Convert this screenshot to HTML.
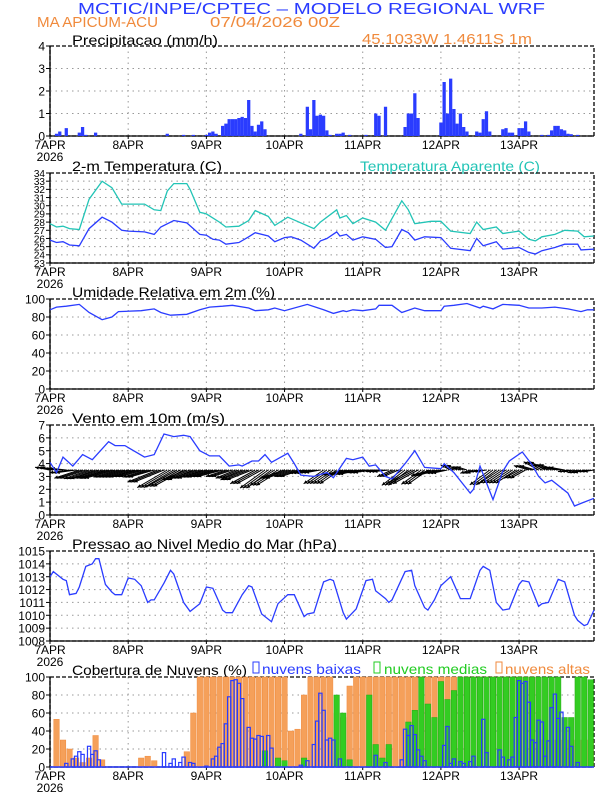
<!DOCTYPE html>
<html><head><meta charset="utf-8">
<style>
html,body{margin:0;padding:0;background:#fff;}
svg{display:block;font-family:"Liberation Sans",sans-serif;}
</style></head>
<body>
<svg id="chart" width="612" height="792" viewBox="0 0 612 792" xmlns="http://www.w3.org/2000/svg">
<text x="78" y="14" textLength="467" lengthAdjust="spacingAndGlyphs" font-size="16" fill="#2a3cff">MCTIC/INPE/CPTEC  –  MODELO REGIONAL WRF</text>
<text x="37" y="27" textLength="121" lengthAdjust="spacingAndGlyphs" font-size="15" fill="#f08a3c">MA APICUM-ACU</text>
<text x="210" y="27" textLength="130" lengthAdjust="spacingAndGlyphs" font-size="15" fill="#f08a3c">07/04/2026 00Z</text>
<text x="362" y="44" textLength="170" lengthAdjust="spacingAndGlyphs" font-size="15" fill="#f08a3c">45.1033W 1.4611S 1m</text>
<text x="72" y="45" textLength="146" lengthAdjust="spacingAndGlyphs" font-size="14" fill="#000">Precipitacao (mm/h)</text>
<text x="72" y="171" textLength="150" lengthAdjust="spacingAndGlyphs" font-size="14" fill="#000">2-m Temperatura (C)</text>
<text x="360" y="171" textLength="180" lengthAdjust="spacingAndGlyphs" font-size="14" fill="#22c4b6">Temperatura Aparente (C)</text>
<text x="72" y="297" textLength="203" lengthAdjust="spacingAndGlyphs" font-size="14" fill="#000">Umidade Relativa em 2m (%)</text>
<text x="72" y="423" textLength="153" lengthAdjust="spacingAndGlyphs" font-size="14" fill="#000">Vento em 10m (m/s)</text>
<text x="72" y="549" textLength="265" lengthAdjust="spacingAndGlyphs" font-size="14" fill="#000">Pressao ao Nivel Medio do Mar (hPa)</text>
<text x="72" y="675" textLength="175" lengthAdjust="spacingAndGlyphs" font-size="14" fill="#000">Cobertura de Nuvens (%)</text>
<g>
<rect x="253" y="662" width="6" height="11" fill="none" stroke="#2a3cff"/>
<text x="262" y="674" textLength="99" lengthAdjust="spacingAndGlyphs" font-size="14" fill="#2a3cff">nuvens baixas</text>
<rect x="374" y="662" width="6" height="11" fill="none" stroke="#22cc22"/>
<text x="384" y="674" textLength="103" lengthAdjust="spacingAndGlyphs" font-size="14" fill="#22cc22">nuvens medias</text>
<rect x="496" y="662" width="6" height="11" fill="none" stroke="#f08a3c"/>
<text x="505" y="674" textLength="85" lengthAdjust="spacingAndGlyphs" font-size="14" fill="#f08a3c">nuvens altas</text>
</g>
</svg>
<script>
// ---- data ----
const dayLabels=["7APR","8APR","9APR","10APR","11APR","12APR","13APR"];
const precipHours=[2,3,5,9,10,11,14,36,41,44,48,49,50,51,53,54,55,56,57,58,59,60,61,62,63,64,65,66,77,79,80,81,82,83,84,85,86,88,89,90,92,97,100,101,103,109,110,111,112,113,120,121,122,123,124,125,126,127,128,131,132,133,134,135,139,140,141,142,144,145,146,147,151,153,154,155,156,157,158,159,160,162];
const precipValues=[0.1,0.2,0.35,0.15,0.4,0.05,0.15,0.1,0.05,0.05,0.05,0.15,0.2,0.1,0.45,0.55,0.75,0.75,0.75,0.8,0.85,0.8,1.6,0.45,0.2,0.5,0.65,0.3,0.1,1.3,0.3,1.6,0.9,0.95,0.9,0.25,0.05,0.1,0.1,0.15,0.05,0.05,1.0,0.9,1.3,0.4,1.0,1.0,1.9,0.8,0.6,2.4,1.0,2.55,1.2,0.55,1.0,0.4,0.2,0.2,0.15,0.75,1.1,0.2,0.3,0.35,0.15,0.15,0.35,0.35,0.65,0.2,0.05,0.05,0.25,0.45,0.45,0.3,0.25,0.1,0.08,0.05];
const tempHours=[0,2,4,6,9,12,16,19,22,24,29,32,34,38,42,46,48,50,52,54,58,61,63,67,69,72,74,77,81,83,85,88,89,91,93,96,100,103,105,108,110,112,115,120,123,129,131,133,137,139,144,147,149,151,155,158,162,163,167];
const tempValues=[25.8,25.5,25.6,25.2,25.1,27.2,28.6,28.0,27.0,26.9,26.8,26.5,27.4,28.2,27.9,26.5,26.4,25.9,25.8,25.3,25.5,26.2,26.7,26.3,25.6,26.1,26.2,25.8,24.8,25.7,26.0,26.8,26.3,26.5,25.8,26.2,25.9,24.9,25.0,27.1,26.7,25.8,26.2,26.1,24.8,24.5,26.0,25.1,25.6,24.7,24.9,24.3,24.1,24.5,24.9,25.3,25.3,24.6,24.7];
const appHours=[0,2,4,6,9,12,16,19,22,29,32,34,36,38,42,43,46,48,52,54,58,61,63,67,69,73,81,83,88,89,91,93,96,100,103,108,110,112,117,120,123,129,131,133,137,139,144,147,149,151,155,158,162,164,167];
const appValues=[27.8,27.4,27.5,27.2,27.1,30.8,33.0,32.2,30.2,30.2,29.5,29.4,31.8,32.7,32.7,32.0,29.2,29.0,28.0,27.4,27.5,28.2,29.4,28.7,27.6,28.6,27.2,28.0,29.5,28.5,28.8,27.8,28.5,28.0,27.0,30.6,29.5,27.8,28.1,28.1,26.9,26.6,28.0,27.1,27.4,26.6,26.9,25.9,25.7,26.2,26.5,27.0,26.9,26.2,26.3];
const rhHours=[0,2,5,9,12,16,19,21,28,32,34,37,42,46,49,53,56,61,63,67,69,72,79,84,87,90,91,93,96,100,101,105,108,112,115,120,121,124,128,132,133,136,139,144,147,151,155,159,163,165,167];
const rhValues=[88,91,92,94,85,77,80,86,87,89,85,82,83,88,91,92,93,90,87,88,90,87,94,88,84,87,86,88,87,89,93,93,85,90,87,87,92,93,95,90,92,89,94,93,90,90,91,89,86,88,88];
const windHours=[0,2,4,7,10,13,18,20,23,29,32,35,38,41,43,46,49,52,55,58,59,62,64,66,68,73,75,77,81,85,87,91,93,96,98,100,103,105,109,112,115,120,121,124,129,130,132,134,136,139,141,145,148,150,152,154,159,161,163,167];
const windSpeed=[4.1,3.3,4.5,3.8,4.7,4.3,5.7,5.4,5.4,4.5,4.7,6.3,6.1,6.2,6.1,5.0,4.6,4.6,3.8,3.9,3.8,4.2,4.2,4.7,4.1,4.8,4.0,3.1,3.0,3.3,2.9,4.4,4.3,4.5,3.8,3.9,3.0,2.8,4.0,5.0,3.7,3.6,4.0,3.3,1.7,2.0,3.8,2.5,1.2,3.4,4.2,4.9,3.9,3.0,2.5,2.7,1.7,0.7,0.9,1.3];
const vecU=[-3,-3,-4,-5,-5,-5,-6,-5,-5,-5,-5,-6,-6,-6,-5,-5,-5,-5,-4,-4,-5,-5,-5,-5,-5,-4,-3,-3,-4,-4,-4,-4,-3,-3,-3,-3,-4,-5,-4,-4,-3,-2,-2,-2,-2,-4,-4,-4,-3,-3,-3,-3,-3,-2,-2,-2];
const vecV=[0.5,0.3,-0.5,-1.5,-1.6,-1.5,-1.5,-1.3,-1.3,-1.2,-1.3,-2.2,-3.2,-3.0,-1.8,-1.5,-1.3,-1.2,-1.2,-1.5,-1.8,-2.5,-3.3,-2.8,-1.5,-1.2,-0.6,-0.5,-2.5,-2.5,-0.9,-0.8,-0.5,-0.2,-0.3,-1.2,-2.8,-2.5,-2.6,-1.0,-0.6,0.9,0.6,-0.6,-0.3,-2.7,-2.4,-2.4,-1.5,0.8,1.5,1.0,0.5,-0.3,-0.5,-0.3];
const presHours=[0,1,4,5,6,8,9,11,13,14,15,17,19,20,22,24,26,28,30,31,32,35,37,38,41,43,46,48,50,53,54,55,56,59,61,62,65,68,70,73,75,78,79,81,84,86,87,90,91,94,97,99,100,103,104,105,109,111,112,115,116,118,120,123,126,127,129,132,133,135,137,139,141,144,145,147,150,151,153,156,158,161,162,164,165,167];
const presValues=[1013.0,1013.4,1012.8,1012.7,1011.6,1011.7,1012.2,1013.8,1014.0,1014.4,1014.4,1012.4,1011.8,1011.6,1011.6,1012.9,1012.8,1012.3,1011.0,1011.2,1011.2,1012.5,1013.5,1013.2,1011.0,1010.3,1010.9,1012.2,1012.1,1010.4,1010.2,1010.2,1010.2,1011.6,1012.3,1012.2,1010.1,1009.5,1010.9,1011.6,1011.6,1009.9,1010.1,1010.2,1012.6,1012.8,1012.7,1010.2,1009.7,1010.5,1012.7,1012.8,1011.9,1011.3,1011.0,1011.2,1013.4,1013.5,1012.3,1010.6,1010.4,1011.2,1012.3,1013.0,1011.3,1011.3,1011.3,1013.5,1013.8,1013.5,1011.0,1010.4,1010.5,1012.4,1012.7,1012.6,1010.7,1010.9,1011.0,1012.8,1012.6,1010.0,1009.6,1009.2,1009.3,1010.4];
const cloudHigh=[0,53,30,20,10,5,10,35,8,0,0,0,0,0,10,12,7,0,0,0,0,17,60,100,100,100,100,100,100,100,100,100,100,100,100,100,100,40,42,80,100,100,100,100,60,55,90,100,100,100,100,100,100,100,100,100,100,100,100,100,100,100,100,100,100,100,100,100,100,100,100,100,100,100,100,30,30,30,30,30,30,30,30,30];
const cloudMid=[0,0,0,0,0,0,0,0,0,0,0,0,0,0,0,0,0,0,0,0,0,0,0,0,0,0,0,0,0,0,0,0,0,18,0,10,7,0,0,10,0,0,0,0,80,60,8,0,0,80,25,10,25,0,0,50,63,100,70,55,95,75,85,100,100,100,100,100,100,100,100,100,100,100,100,100,100,100,100,55,55,100,100,97];
const lowHours=[5,7,8,9,10,12,13,14,15,35,37,38,40,41,43,44,48,50,51,52,53,54,55,56,57,58,59,61,62,63,64,65,67,68,77,79,81,82,83,84,85,86,87,89,100,103,108,109,110,111,112,113,114,115,121,122,123,124,126,127,129,130,133,134,138,139,141,142,143,144,145,146,147,148,149,150,151,152,153,154,155,156,157,159,160,162];
const lowValues=[4,9,12,17,14,23,14,18,8,16,4,9,5,11,5,4,1,9,12,22,26,48,78,96,97,93,76,44,32,31,35,34,35,21,2,7,25,51,82,63,30,32,30,9,13,5,8,42,35,46,36,19,12,7,24,45,4,9,6,4,6,12,53,16,19,11,8,11,55,96,93,95,72,30,27,52,50,12,29,66,81,54,61,44,23,5];

// ---- helpers ----
const svg=document.getElementById('chart');
const NS='http://www.w3.org/2000/svg';
const X0=50,X1=594,HMAX=167,PH=90;
function x(h){return X0+(X1-X0)*h/HMAX;}
function yScale(top,min,max){return v=>top+PH-(v-min)/(max-min)*PH;}
function el(tag,attrs,parent){const e=document.createElementNS(NS,tag);for(const k in attrs)e.setAttribute(k,attrs[k]);(parent||svg).appendChild(e);return e;}

function drawAxes(top,min,max,step,key,fs,showYear){
  const g=el('g',{});
  
  
  const y=yScale(top,min,max);
  for(let d=1;d<7;d++){
    const l=el('line',{x1:x(d*24),x2:x(d*24),y1:top,y2:top+PH,stroke:'#999','stroke-dasharray':'1.5,4'},g);
    
    
  }
  for(let v=min;v<=max+1e-9;v+=step){
    const yy=y(v);
    if(v>min&&v<max){const l=el('line',{x1:X0,x2:X1,y1:yy,y2:yy,stroke:'#999','stroke-dasharray':'1.5,4'},g);
      
      }
    el('line',{x1:X0-4,x2:X0,y1:yy,y2:yy,stroke:'#000'},g);
    const t=el('text',{x:X0-5,y:yy+fs*0.38,'text-anchor':'end','font-size':fs},g);
    t.textContent=String(Math.round(v));
    
    
  }
  el('rect',{x:X0,y:top,width:X1-X0,height:PH,fill:'none',stroke:'#000','stroke-dasharray':'4,2','stroke-width':1.3},g);
  el('line',{x1:X0,x2:X0,y1:top,y2:top+PH,stroke:'#000','stroke-width':1.3},g);
  el('line',{x1:X0,x2:X1,y1:top+PH,y2:top+PH,stroke:'#000','stroke-width':1.3},g);
  dayLabels.forEach((lab,i)=>{
    el('line',{x1:x(i*24),x2:x(i*24),y1:top+PH,y2:top+PH+3,stroke:'#000'},g);
    const t=el('text',{x:x(i*24),y:top+PH+13,'text-anchor':'middle','font-size':12},g);
    t.textContent=lab;
    
    
  });
  if(showYear){const t=el('text',{x:x(0),y:top+PH+25,'text-anchor':'middle','font-size':12},g);t.textContent='2026';
    
    }
  return y;
}
function drawLine(hours,vals,y,color,name){
  const p=el('path',{d:hours.map((h,i)=>(i?'L':'M')+x(h).toFixed(1)+','+y(vals[i]).toFixed(1)).join(''),fill:'none',stroke:color,'stroke-width':1.3});
  
  
}
const BW=(X1-X0)/HMAX;

// Precip
const yP=drawAxes(46,0,4,1,'precip',12,true);
precipHours.forEach((h,i)=>{
  const r=el('rect',{x:x(h)-BW/2,y:yP(precipValues[i]),width:BW,height:yP(0)-yP(precipValues[i]),fill:'#2a3cff'});
  
  
});
// Temperature
const yT=drawAxes(173,23,34,1,'temp',10,true);
drawLine(appHours,appValues,yT,'#22c4b6','apparent-temp-line');
drawLine(tempHours,tempValues,yT,'#2a3cff','temp-line');
// Humidity
const yR=drawAxes(299,0,100,20,'humidity',12,true);
drawLine(rhHours,rhValues,yR,'#2a3cff','humidity-line');
// Wind
const yW=drawAxes(425,0,7,1,'wind',12,true);
const base=yW(3.5);
el('line',{x1:X0,x2:X1,y1:base,y2:base,stroke:'#000','stroke-width':0.8,'stroke-dasharray':'1,1'});
vecU.forEach((u,i)=>{
  const g=el('g',{});
  
  
  for(let k=0;k<3;k++){
    const x0=x(i*3+k), dx=u*5, dy=-vecV[i]*5.5;
    const x1=x0+dx, y1=base+dy;
    const ang=Math.atan2(dy,dx);
    el('line',{x1:x0,y1:base,x2:x1,y2:y1,stroke:'#000','stroke-width':1},g);
    const a1=ang+2.7,a2=ang-2.7;
    el('path',{d:`M${x1},${y1}L${x1+4*Math.cos(a1)},${y1+4*Math.sin(a1)}L${x1+4*Math.cos(a2)},${y1+4*Math.sin(a2)}Z`,fill:'#000'},g);
  }
});
drawLine(windHours,windSpeed,yW,'#2a3cff','wind-speed-line');
// Pressure
const yPr=drawAxes(551,1008,1015,1,'pressure',12,true);
drawLine(presHours,presValues,yPr,'#2a3cff','pressure-line');
// Clouds
const yC=drawAxes(677,0,100,20,'cloud',12,true);
const cw=2*BW;
cloudHigh.forEach((v,i)=>{if(!v)return;
  const r=el('rect',{x:x(i*2)-cw/2+0.5,y:yC(v),width:cw-1,height:yC(0)-yC(v),fill:'#f5a05a',stroke:'#f08a3c','stroke-width':0.5});
  
  
});
cloudMid.forEach((v,i)=>{if(!v)return;
  const r=el('rect',{x:x(i*2)-cw/2+0.5,y:yC(v),width:cw-1,height:yC(0)-yC(v),fill:'#33cc22',stroke:'#22aa11','stroke-width':0.5});
  
  
});
lowHours.forEach((h,i)=>{
  const v=lowValues[i];
  const r=el('rect',{x:x(h)-BW/2,y:yC(v),width:BW,height:yC(0)-yC(v),fill:'none',stroke:'#2a3cff','stroke-width':1.2});
  
  
});
el('line',{x1:X0,x2:X1,y1:yC(0),y2:yC(0),stroke:'#2a3cff','stroke-width':1.5});
</script>
</body></html>
